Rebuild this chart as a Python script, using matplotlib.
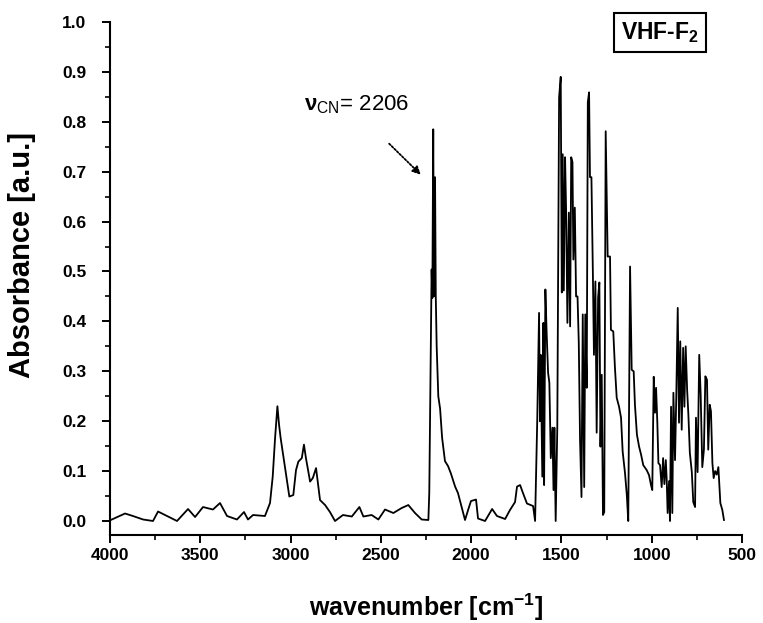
import matplotlib
matplotlib.use("Agg")
import matplotlib.pyplot as plt
from matplotlib.ticker import MultipleLocator

plt.rcParams['font.family'] = ['Liberation Sans', 'DejaVu Sans']
plt.rcParams['mathtext.fontset'] = 'custom'
plt.rcParams['mathtext.rm'] = 'Liberation Sans'
plt.rcParams['mathtext.it'] = 'Liberation Sans:italic'
plt.rcParams['mathtext.bf'] = 'Liberation Sans:bold'

# IR spectrum: wavenumber (cm-1) and absorbance
# baseline + C-H stretch region
wn_ch = [3996, 3917, 3873, 3817, 3762, 3734, 3684, 3629, 3568, 3529, 3485, 3430,
         3391, 3352, 3297, 3258, 3236, 3208, 3142, 3114, 3099, 3086, 3073, 3064,
         3055, 3040, 3021, 3007, 2985, 2970, 2957, 2938, 2926, 2915, 2892, 2877,
         2859, 2846, 2837, 2809, 2782, 2754, 2710, 2661, 2619, 2597, 2551, 2514,
         2477, 2431, 2385, 2348, 2311, 2274, 2237, 2232]
ab_ch = [0.002, 0.015, 0.010, 0.003, 0.000, 0.019, 0.010, 0.000, 0.024, 0.008, 0.028, 0.023,
         0.036, 0.010, 0.003, 0.018, 0.003, 0.012, 0.010, 0.036, 0.089, 0.166, 0.230, 0.193,
         0.166, 0.129, 0.082, 0.049, 0.052, 0.102, 0.119, 0.126, 0.153, 0.126, 0.079, 0.086,
         0.106, 0.069, 0.042, 0.032, 0.018, 0.000, 0.012, 0.009, 0.028, 0.009, 0.012, 0.003,
         0.023, 0.016, 0.026, 0.032, 0.016, 0.003, 0.002, 0.056]

# nitrile band and its tail
wn_cn = [2219, 2215, 2210, 2206, 2200, 2196, 2191, 2182, 2172, 2161, 2145, 2128,
         2112, 2089, 2073, 2034, 2017, 2001, 1973, 1962, 1923, 1884, 1857, 1812,
         1785, 1757, 1746, 1729, 1713, 1691, 1657, 1646]
ab_cn = [0.504, 0.447, 0.785, 0.450, 0.689, 0.450, 0.350, 0.250, 0.225, 0.167, 0.120, 0.110,
         0.095, 0.069, 0.056, 0.002, 0.022, 0.040, 0.043, 0.005, 0.000, 0.024, 0.010, 0.004,
         0.022, 0.038, 0.069, 0.072, 0.056, 0.035, 0.030, 0.000]

# fingerprint region
wn_fp = [1634, 1624, 1619, 1615, 1606, 1600, 1596, 1589, 1582, 1574, 1567, 1559,
         1550, 1544, 1539, 1532, 1523, 1513, 1504, 1498, 1493, 1487, 1480, 1474,
         1467, 1459, 1452, 1446, 1439, 1434, 1426, 1419, 1411, 1404, 1397, 1389,
         1382, 1374, 1368, 1360, 1354, 1347, 1342, 1334, 1326, 1320, 1312, 1305,
         1297, 1290, 1284, 1277, 1270, 1263, 1255, 1244, 1231, 1226, 1213, 1204,
         1194, 1181, 1170, 1161, 1148, 1138, 1130, 1120, 1111, 1100, 1093, 1082,
         1070, 1059, 1047, 1028, 1015, 1004, 997, 989, 982, 976, 969, 963,
         954, 945, 937, 930, 922, 917, 912, 904, 899, 893, 886, 880,
         871, 864, 856, 849, 842, 834, 826, 819, 812, 804, 797, 789,
         778, 770, 760, 755, 746, 737, 729, 720, 711, 703, 694, 687,
         679, 672, 664, 657, 649, 640, 631, 626, 620, 609, 600]
ab_fp = [0.203, 0.417, 0.200, 0.333, 0.089, 0.397, 0.072, 0.464, 0.377, 0.297, 0.277, 0.126,
         0.187, 0.062, 0.187, 0.000, 0.187, 0.849, 0.890, 0.458, 0.735, 0.462, 0.729, 0.618,
         0.397, 0.618, 0.390, 0.729, 0.719, 0.524, 0.628, 0.450, 0.450, 0.357, 0.163, 0.048,
         0.414, 0.068, 0.414, 0.267, 0.839, 0.859, 0.689, 0.689, 0.498, 0.333, 0.480, 0.177,
         0.448, 0.478, 0.149, 0.293, 0.012, 0.018, 0.781, 0.530, 0.530, 0.383, 0.380, 0.309,
         0.247, 0.229, 0.207, 0.139, 0.096, 0.052, 0.000, 0.510, 0.303, 0.300, 0.233, 0.173,
         0.149, 0.133, 0.112, 0.102, 0.092, 0.072, 0.062, 0.289, 0.217, 0.267, 0.197, 0.116,
         0.112, 0.068, 0.126, 0.074, 0.122, 0.082, 0.016, 0.080, 0.000, 0.229, 0.016, 0.257,
         0.122, 0.250, 0.427, 0.197, 0.360, 0.183, 0.347, 0.229, 0.350, 0.263, 0.213, 0.137,
         0.098, 0.038, 0.028, 0.207, 0.098, 0.333, 0.253, 0.108, 0.143, 0.290, 0.283, 0.143,
         0.233, 0.220, 0.116, 0.086, 0.100, 0.093, 0.108, 0.076, 0.036, 0.022, 0.002]

wavenumber = wn_ch + wn_cn + wn_fp
absorbance = ab_ch + ab_cn + ab_fp

fig = plt.figure(figsize=(7.63, 6.23), dpi=100)
ax = fig.add_axes([0.1442, 0.1413, 0.8283, 0.8234])

ax.plot(wavenumber, absorbance, color='black', lw=1.3)

ax.set_xlim(4000, 500)
ax.set_ylim(-0.028, 1.0)
ax.xaxis.set_major_locator(MultipleLocator(500))
ax.xaxis.set_minor_locator(MultipleLocator(250))
ax.yaxis.set_major_locator(MultipleLocator(0.1))
ax.yaxis.set_minor_locator(MultipleLocator(0.05))
ax.yaxis.set_major_formatter(plt.FormatStrFormatter('%.1f'))

for side in ['top', 'right']:
    ax.spines[side].set_visible(False)
for side in ['left', 'bottom']:
    ax.spines[side].set_linewidth(1.5)
ax.tick_params(which='major', direction='out', length=6, width=1.4, labelsize=12.5)
ax.tick_params(which='minor', direction='out', length=3.5, width=1.2)
ax.tick_params(axis='y', which='major', pad=11)
for lab in ax.get_xticklabels() + ax.get_yticklabels():
    lab.set_fontweight('bold')

ax.set_xlabel(r'wavenumber [cm$^{\mathbf{-1}}$]', fontsize=18, fontweight='bold')
ax.set_ylabel('Absorbance [a.u.]', fontsize=21, fontweight='bold')
ax.xaxis.set_label_coords(0.5, -0.11)
ax.yaxis.set_label_coords(-0.117, 0.545)

# annotation of the nitrile stretch
ax.text(2925, 0.835, r'$\mathbf{ν}_{\mathrm{CN}}$= 2206', fontsize=16, ha='left', va='center')
ax.annotate('', xy=(2268, 0.69), xytext=(2465, 0.76),
            arrowprops=dict(arrowstyle='-|>', linestyle=(0, (1, 1)), lw=1.3,
                            color='black', mutation_scale=12))

ax.text(0.870, 0.98, r'VHF-F$_{\mathbf{2}}$', transform=ax.transAxes, fontsize=16.5,
        fontweight='bold', ha='center', va='center',
        bbox=dict(boxstyle='square,pad=0.3', fc='white', ec='black', lw=1.5))

fig.savefig('out.png', dpi=100)
